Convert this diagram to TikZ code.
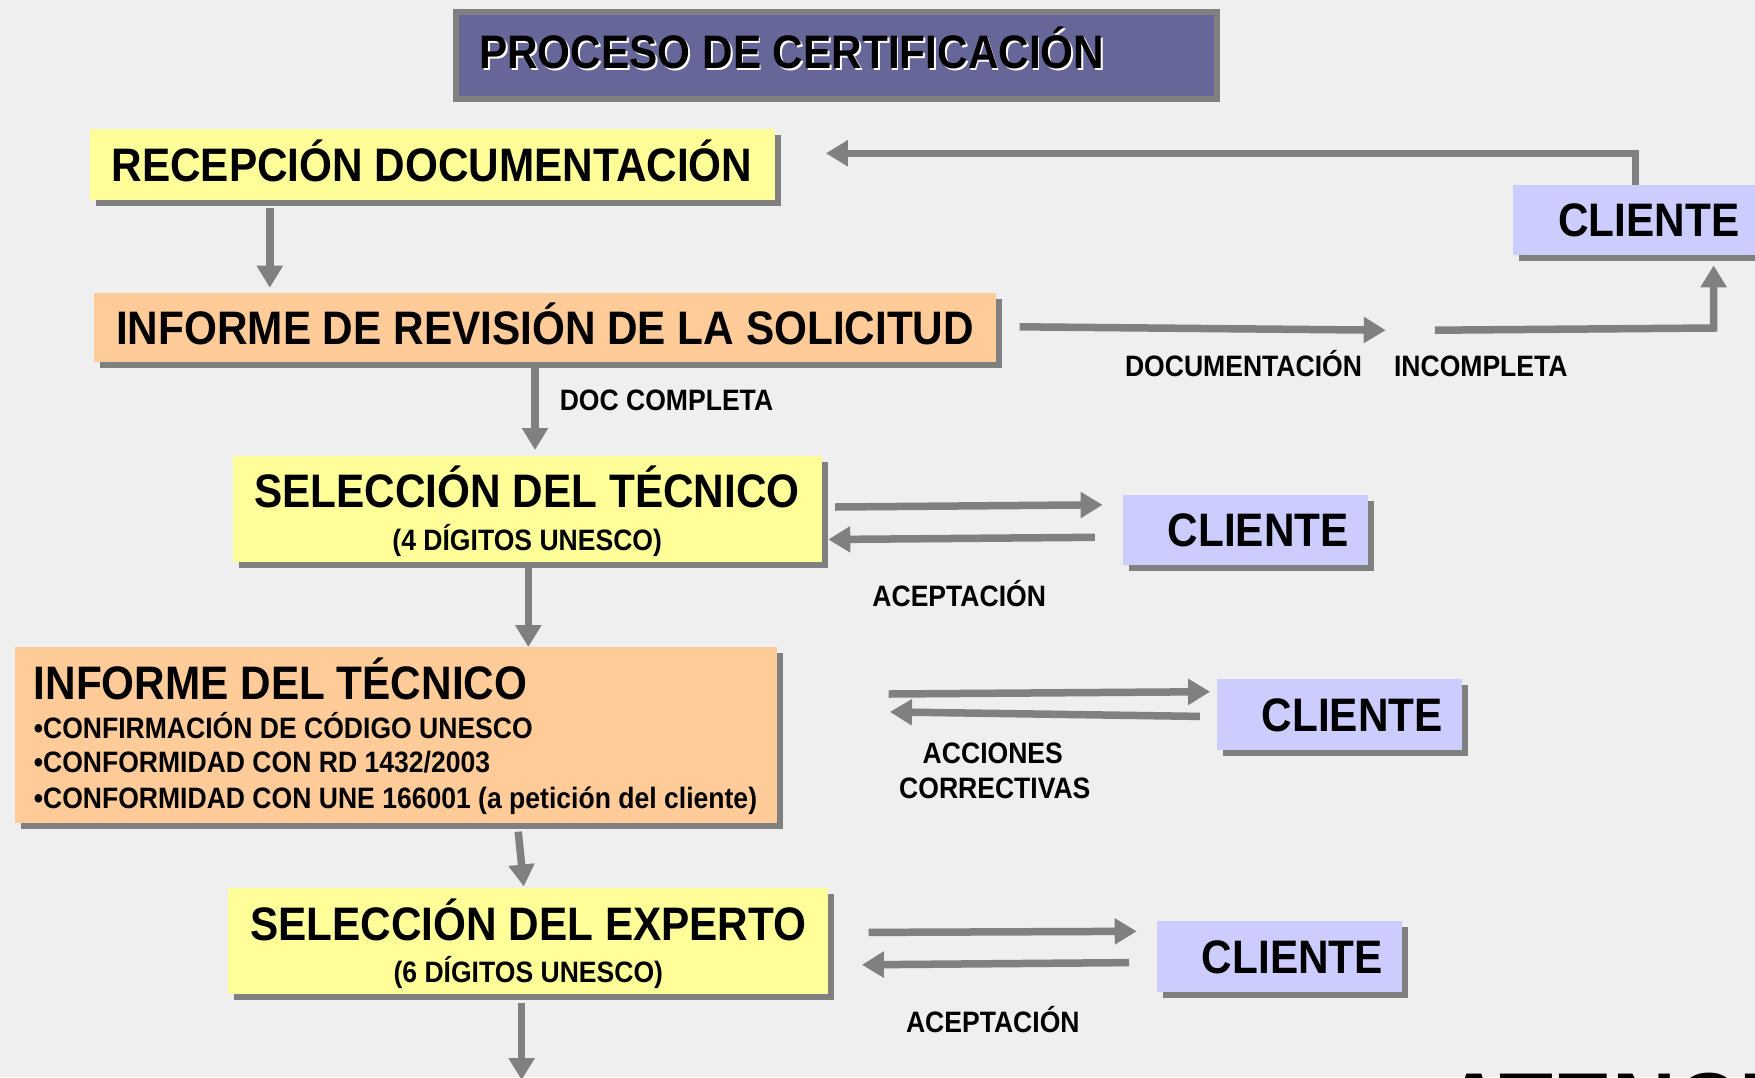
\documentclass[tikz,border=0pt]{standalone}
\usepackage{fontspec}
\setmainfont{Liberation Sans}[FakeStretch=0.9]
\usetikzlibrary{arrows.meta,shadows,calc}
\definecolor{bgc}{HTML}{EFEFEF}
\definecolor{yel}{HTML}{FFFF99}
\definecolor{ora}{HTML}{FFCC99}
\definecolor{lav}{HTML}{CCCCFF}
\definecolor{titlec}{HTML}{666699}
\definecolor{shgray}{HTML}{808080}
\definecolor{arrgray}{HTML}{808080}
\begin{document}
\begin{tikzpicture}[x=1pt,y=-1pt,
  bigtxt/.style={font=\fontsize{47}{52}\selectfont\bfseries},
  smalltxt/.style={font=\fontsize{29.5}{33}\selectfont\bfseries},
  box/.style={inner sep=0pt, outer sep=0pt, draw=none,
    drop shadow={shadow xshift=6pt,shadow yshift=-6pt,opacity=1,fill=shgray}},
  ybox/.style={box, fill=yel},
  obox/.style={box, fill=ora},
  onebig/.style={bigtxt, text height=33.6pt, text depth=0pt},
  cbox/.style={box, fill=lav, minimum width=245pt, minimum height=70.5pt, onebig},
  lbl/.style={smalltxt, inner sep=0pt, anchor=base},
  txt/.style={inner sep=0pt, anchor=base},
  arr/.style={draw=arrgray, line width=7.5pt, -{Triangle[length=22pt,width=25pt]}},
]
\useasboundingbox (0,0) rectangle (1755,1077);
\fill[bgc] (0,0) rectangle (1755,1077);
\clip (0,0) rectangle (1755,1077);

% title
\node[draw=shgray, line width=6pt, fill=titlec, minimum width=761pt, minimum height=87pt, inner sep=0pt] (title) at (836.7,55.5) {};
\node[bigtxt, txt, anchor=base west, text=white] (titlesh) at (480.8,70.0) {PROCESO DE CERTIFICACIÓN};
\node[bigtxt, txt, anchor=base west] (titletxt) at (479,68.3) {PROCESO DE CERTIFICACIÓN};

% boxes
\node[ybox, onebig, minimum width=685pt, minimum height=71.7pt] (recep) at (432,164.5) {RECEPCIÓN DOCUMENTACIÓN};
\node[obox, onebig, minimum width=902pt, minimum height=68.2pt] (inforev) at (545.1,327.4) {INFORME DE REVISIÓN DE LA SOLICITUD};
\node[cbox] (cli1) at (1635.8,220) {\hspace*{26pt}CLIENTE};

\node[ybox, minimum width=588.8pt, minimum height=106.4pt] (seltec) at (527.2,508.7) {};
\node[bigtxt, txt] (seltecA) at (527,507.1) {SELECCIÓN DEL TÉCNICO};
\node[smalltxt, txt] (seltecB) at (527.2,550.1) {(4 DÍGITOS UNESCO)};
\node[cbox] (cli2) at (1245.3,530) {\hspace*{26pt}CLIENTE};

\node[obox, minimum width=762.2pt, minimum height=175.7pt] (inftec) at (395.7,734.9) {};
\node[bigtxt, txt, anchor=base west] (inftecA) at (33.6,699.6) {INFORME DEL TÉCNICO};
\node[smalltxt, txt, anchor=base west] (inftecB) at (33.6,738.1) {•CONFIRMACIÓN DE CÓDIGO UNESCO};
\node[smalltxt, txt, anchor=base west] (inftecC) at (33.6,772.8) {•CONFORMIDAD CON RD 1432/2003};
\node[smalltxt, txt, anchor=base west] (inftecD) at (33.6,808.6) {•CONFORMIDAD CON UNE 166001 (a petición del cliente)};
\node[cbox] (cli3) at (1339.3,714.7) {\hspace*{26pt}CLIENTE};

\node[ybox, minimum width=600pt, minimum height=106.4pt] (selexp) at (528.3,940.8) {};
\node[bigtxt, txt] (selexpA) at (528.3,940.2) {SELECCIÓN DEL EXPERTO};
\node[smalltxt, txt] (selexpB) at (528.3,982.2) {(6 DÍGITOS UNESCO)};
\node[cbox] (cli4) at (1279.4,956.5) {\hspace*{26pt}CLIENTE};

% labels
\node[lbl, anchor=base west] (ldoc) at (559.6,410.2) {DOC COMPLETA};
\node[lbl] (ldocum) at (1243.5,376.6) {DOCUMENTACIÓN};
\node[lbl] (lincomp) at (1480.8,376.6) {INCOMPLETA};
\node[lbl] (lacep1) at (959.2,606.1) {ACEPTACIÓN};
\node[lbl] (lacc) at (992.8,763.9) {ACCIONES};
\node[lbl] (lcorr) at (994.8,798.6) {CORRECTIVAS};
\node[lbl] (lacep2) at (992.8,1032.6) {ACEPTACIÓN};

% partial text at bottom right (only its top shows)
\node[font=\fontsize{98}{100}\selectfont\bfseries, txt, anchor=base west] (aten) at (1442,1141) {ATENCIÓN};

% vertical flow
\coordinate (xa1) at (269.8,0);
\draw[arr, shorten <=7.8pt, shorten >=5.6pt] (recep.south -| xa1) -- (inforev.north -| xa1);
\coordinate (xa2) at (535,0);
\draw[arr, shorten <=5.5pt, shorten >=5.5pt] (inforev.south -| xa2) -- (seltec.north -| xa2);
\coordinate (xa3) at (528.3,0);
\draw[arr, shorten <=5.6pt] (seltec.south -| xa3) -- (inftec.north -| xa3);
\draw[arr] ($(inftec.south)+(122.5,8.9)$) -- ($(selexp.north)+(-4.5,-1.1)$);
\coordinate (bot) at (521.6,1080);
\draw[arr, shorten <=8.9pt] (selexp.south -| bot) -- (bot);

% documentation incomplete loop
\coordinate (gapA) at (1385.7,330.2);
\coordinate (gapB) at (1434.9,330.2);
\coordinate (corner1) at (1713.6,328);
\draw[arr] ($(inforev.east)+(23.5,-0.6)$) -- (gapA);
\draw[arr] (gapB) -- (corner1) -- ($(cli1.south)+(77.8,10.1)$);
\coordinate (xl) at (1635.3,0);
\draw[arr] (cli1.north -| xl) |- ($(recep.east)+(51.4,-11.2)$);

% pairs
\draw[arr] ($(seltec.east)+(13.4,-1.7)$) -- ($(cli2.west)+(-20.2,-25.2)$);
\draw[arr] ($(cli2.west)+(-28,7.3)$) -- ($(seltec.east)+(6.7,30.8)$);
\draw[arr] ($(inftec.east)+(111.9,-40.9)$) -- ($(cli3.west)+(-6.7,-23)$);
\draw[arr] ($(cli3.west)+(-17,1.7)$) -- ($(inftec.east)+(113.1,-23)$);
\draw[arr] ($(selexp.east)+(40.3,-8.4)$) -- ($(cli4.west)+(-20.2,-25.2)$);
\draw[arr] ($(cli4.west)+(-27.9,6.1)$) -- ($(selexp.east)+(33.6,24)$);
\end{tikzpicture}
\end{document}
